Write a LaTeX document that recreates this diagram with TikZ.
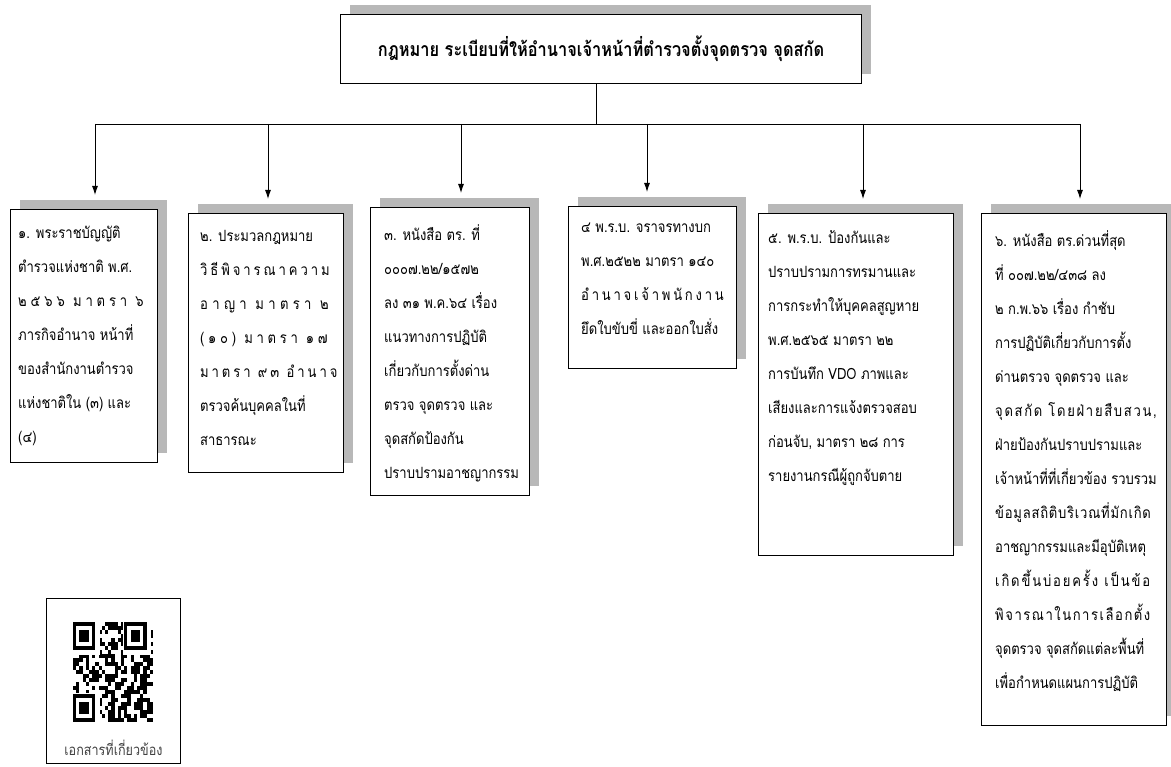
\documentclass[tikz,border=0pt]{standalone}
\usepackage{fontspec}
\setmainfont[Script=Thai, FakeStretch=0.84]{Loma}
\usetikzlibrary{arrows.meta, shadows}
\newcommand{\spread}[2]{{\addfontfeature{LetterSpace=#1}#2}}

\tikzset{
  lawbox/.style={draw, line width=1.1pt, fill=white, anchor=north west, inner sep=0pt,
    drop shadow={shadow xshift=9pt, shadow yshift=10pt, fill=black!28, opacity=1}},
  lawtext/.style={anchor=north west, align=left, inner sep=0pt, font=\fontsize{15.5}{34}\selectfont},
  feed/.style={-{Latex[length=9pt,width=6pt]}, line width=0.9pt, shorten >=14pt}
}

\begin{document}
\begin{tikzpicture}[x=1pt,y=-1pt]
\useasboundingbox (0,0) rectangle (1171,767);
\node (title) at (340,14) [lawbox, minimum width=521pt, minimum height=69pt, font=\fontsize{19.5}{22}\selectfont\bfseries] {กฎหมาย ระเบียบที่ให้อำนาจเจ้าหน้าที่ตำรวจตั้งจุดตรวจ จุดสกัด};
\coordinate (busL) at (95,124);
\coordinate (busR) at (1081,124);
\draw[line width=0.9pt] (busL) -- (busR);
\draw[line width=0.9pt] ([xshift=-5pt]title.south) -- ([xshift=-5pt]title.south |- busL);

\node (b1) at (10,209) [lawbox, minimum width=147pt, minimum height=253pt] {};
\node (t1) at ([shift={(8pt,-17pt)}]b1.north west) [lawtext] {๑. พระราชบัญญัติ\\ตำรวจแห่งชาติ พ.ศ.\\\spread{25}{๒๕๖๖ มาตรา ๖}\\ภารกิจอำนาจ หน้าที่\\ของสำนักงานตำรวจ\\แห่งชาติใน (๓) และ\\(๔)};
\node (b2) at (188,213) [lawbox, minimum width=155pt, minimum height=259pt] {};
\node (t2) at ([shift={(12pt,-17pt)}]b2.north west) [lawtext] {๒. ประมวลกฎหมาย\\\spread{19}{วิธีพิจารณาความ}\\\spread{28}{อาญา มาตรา ๒}\\\spread{24}{(๑๐) มาตรา ๑๗}\\\spread{19}{มาตรา ๙๓ อำนาจ}\\ตรวจค้นบุคคลในที่\\สาธารณะ};
\node (b3) at (370,207) [lawbox, minimum width=159pt, minimum height=288pt] {};
\node (t3) at ([shift={(14pt,-17pt)}]b3.north west) [lawtext] {๓. หนังสือ ตร. ที่\\๐๐๐๗.๒๒/๑๕๗๒\\ลง ๓๑ พ.ค.๖๔ เรื่อง\\แนวทางการปฏิบัติ\\เกี่ยวกับการตั้งด่าน\\ตรวจ จุดตรวจ และ\\จุดสกัดป้องกัน\\ปราบปรามอาชญากรรม};
\node (b4) at (568,206) [lawbox, minimum width=168pt, minimum height=162pt] {};
\node (t4) at ([shift={(13pt,-17pt)}]b4.north west) [lawtext] {๔ พ.ร.บ. จราจรทางบก\\พ.ศ.๒๕๒๒ มาตรา ๑๔๐\\\spread{18}{อำนาจเจ้าพนักงาน}\\ยึดใบขับขี่ และออกใบสั่ง};
\node (b5) at (758,213) [lawbox, minimum width=195pt, minimum height=342pt] {};
\node (t5) at ([shift={(10pt,-17pt)}]b5.north west) [lawtext] {๕. พ.ร.บ. ป้องกันและ\\ปราบปรามการทรมานและ\\การกระทำให้บุคคลสูญหาย\\พ.ศ.๒๕๖๕ มาตรา ๒๒\\การบันทึก VDO ภาพและ\\เสียงและการแจ้งตรวจสอบ\\ก่อนจับ, มาตรา ๒๘ การ\\รายงานกรณีผู้ถูกจับตาย};
\node (b6) at (981,213) [lawbox, minimum width=185pt, minimum height=512pt] {};
\node (t6) at ([shift={(14pt,-17pt)}]b6.north west) [lawtext] {๖. หนังสือ ตร.ด่วนที่สุด\\ที่ ๐๐๗.๒๒/๔๓๘ ลง\\๒ ก.พ.๖๖ เรื่อง กำชับ\\การปฏิบัติเกี่ยวกับการตั้ง\\ด่านตรวจ จุดตรวจ และ\\\spread{11}{จุดสกัด โดยฝ่ายสืบสวน,}\\ฝ่ายป้องกันปราบปรามและ\\เจ้าหน้าที่ที่เกี่ยวข้อง รวบรวม\\\spread{5}{ข้อมูลสถิติบริเวณที่มักเกิด}\\อาชญากรรมและมีอุบัติเหตุ\\\spread{12}{เกิดขึ้นบ่อยครั้ง เป็นข้อ}\\\spread{10}{พิจารณาในการเลือกตั้ง}\\จุดตรวจ จุดสกัดแต่ละพื้นที่\\เพื่อกำหนดแผนการปฏิบัติ};

\foreach \i/\x in {1/95, 2/268, 3/461, 4/647, 5/863, 6/1080} {
  \coordinate (a\i) at (\x,124);
  \draw[feed] (a\i) -- (a\i |- b\i.north);
}

\node (qr) at (46,598) [draw, line width=0.9pt, anchor=north west, minimum width=134pt, minimum height=165pt] {};
\node (qrcap) at ([yshift=5pt]qr.south) [anchor=south, text=black!75, font=\fontsize{15}{17}\selectfont] {เอกสารที่เกี่ยวข้อง};
\pgfmathsetseed{11}
\foreach \i in {0,...,24} {
  \foreach \j in {0,...,24} {
    \pgfmathrandominteger{\m}{0}{1}
    \ifnum\m=1 \fill (73+\i*3.2, 622+\j*4) rectangle ++(3.2,4); \fi
  }
}
\foreach \fx/\fy in {73/622, 124.2/622, 73/694} {
  \fill[white] (\fx-1,\fy-1) rectangle ++(27.6,34);
  \fill (\fx,\fy) rectangle ++(22.4,28);
  \fill[white] (\fx+3.2,\fy+4) rectangle ++(16,20);
  \fill (\fx+6.4,\fy+8) rectangle ++(9.6,12);
}
\end{tikzpicture}
\end{document}
